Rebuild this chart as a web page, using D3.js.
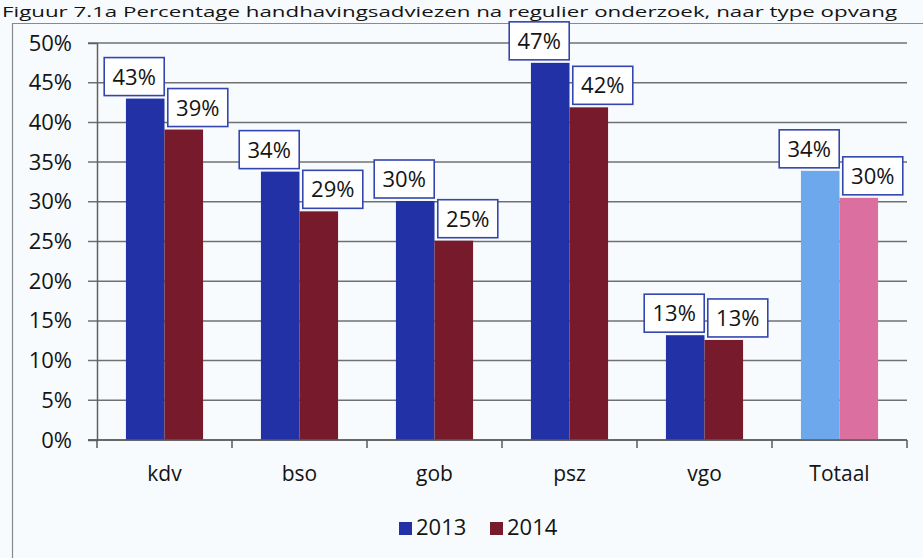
<!DOCTYPE html>
<html>
<head>
<meta charset="utf-8">
<script src="https://cdn.jsdelivr.net/npm/d3@7"></script>
<style>
  body { margin: 0; background: #f8fbfd; }
  #chart { width: 923px; height: 558px; }
  text { font-family: "Open Sans", sans-serif; fill: #141414; }
</style>
</head>
<body>
<div id="chart"></div>
<script>
const categories = ["kdv", "bso", "gob", "psz", "vgo", "Totaal"];
const years = ["2013", "2014"];
const values2013 = [43.0, 33.8, 30.1, 47.5, 13.2, 33.9];
const values2014 = [39.1, 28.8, 25.1, 41.9, 12.6, 30.5];
const labels2013 = ["43%", "34%", "30%", "47%", "13%", "34%"];
const labels2014 = ["39%", "29%", "25%", "42%", "13%", "30%"];
const yTicks = [0, 5, 10, 15, 20, 25, 30, 35, 40, 45, 50];
const title = "Figuur 7.1a Percentage handhavingsadviezen na regulier onderzoek, naar type opvang";

const colors = { "2013": "#2232a6", "2014": "#771a2c" };
const totalColors = { "2013": "#6ea8ec", "2014": "#da6fa0" };

const container = d3.select("#chart");
const width = 923, height = 558;
const svg = container.append("svg").attr("width", width).attr("height", height);

const margin = { left: 97, right: 16, top: 43, bottom: 118 };

// frame around the chart
svg.append("path")
  .attr("d", `M12.5,${height} V23.5 H${width}`)
  .attr("fill", "none")
  .attr("stroke", "#8a8a8a")
  .attr("stroke-width", 1.2);

// title
svg.append("text")
  .attr("x", 2)
  .attr("y", 17)
  .attr("font-size", 15)
  .attr("textLength", 895)
  .attr("lengthAdjust", "spacingAndGlyphs")
  .text(title);

const x0 = d3.scaleBand()
  .domain(categories)
  .range([margin.left, width - margin.right])
  .padding(0);

const x1 = d3.scaleBand()
  .domain(years)
  .range([0, x0.bandwidth()])
  .paddingInner(0)
  .paddingOuter(0.75);

const y = d3.scaleLinear()
  .domain([0, 50])
  .range([height - margin.bottom, margin.top]);

// gridlines
svg.append("g")
  .selectAll("line")
  .data(yTicks)
  .join("line")
  .attr("x1", margin.left - 9)
  .attr("x2", width - margin.right)
  .attr("y1", d => y(d))
  .attr("y2", d => y(d))
  .attr("stroke", "#707070")
  .attr("stroke-width", 1.5);

// y axis
svg.append("g")
  .attr("transform", `translate(${margin.left},0)`)
  .call(d3.axisLeft(y).tickValues(yTicks).tickFormat(d => d + "%").tickSize(9).tickPadding(16))
  .call(g => g.select(".domain").attr("stroke", "#606060").attr("stroke-width", 1.5))
  .call(g => g.selectAll(".tick line").remove())
  .call(g => g.selectAll(".tick text").attr("font-size", 22).attr("fill", "#141414").attr("font-family", "'Open Sans', sans-serif"));

// rows for the bars
const rows = [];
categories.forEach((c, i) => {
  rows.push({ cat: c, year: "2013", value: values2013[i], label: labels2013[i] });
  rows.push({ cat: c, year: "2014", value: values2014[i], label: labels2014[i] });
});

svg.append("g")
  .selectAll("rect")
  .data(rows)
  .join("rect")
  .attr("x", d => x0(d.cat) + x1(d.year))
  .attr("y", d => y(d.value))
  .attr("width", x1.bandwidth())
  .attr("height", d => y(0) - y(d.value))
  .attr("fill", d => d.cat === "Totaal" ? totalColors[d.year] : colors[d.year]);

// x axis
const xAxisG = svg.append("g")
  .attr("transform", `translate(0,${y(0)})`);
xAxisG.append("line")
  .attr("x1", margin.left - 9)
  .attr("x2", width - margin.right)
  .attr("stroke", "#5a5a5a")
  .attr("stroke-width", 1.5);
const tickX = categories.map(c => x0(c)).concat([x0.range()[1]]);
xAxisG.selectAll(".xtick")
  .data(tickX)
  .join("line")
  .attr("x1", d => d).attr("x2", d => d)
  .attr("y1", 0).attr("y2", 8)
  .attr("stroke", "#5a5a5a")
  .attr("stroke-width", 1.5);
xAxisG.selectAll(".xlab")
  .data(categories)
  .join("text")
  .attr("x", d => x0(d) + x0.bandwidth() / 2)
  .attr("y", 41)
  .attr("text-anchor", "middle")
  .attr("font-size", 21)
  .text(d => d);

// data label boxes (nudged sideways like the original)
const boxW = 60, boxH = 38;
const nudge = { "2013": -11, "2014": 14 };
const lab = svg.append("g")
  .selectAll("g")
  .data(rows)
  .join("g")
  .attr("transform", d => {
    const cx = x0(d.cat) + x1(d.year) + x1.bandwidth() / 2 + nudge[d.year];
    const top = y(d.value) - 3 - boxH;
    return `translate(${cx - boxW / 2},${top})`;
  });
lab.append("rect")
  .attr("width", boxW)
  .attr("height", boxH)
  .attr("fill", "#ffffff")
  .attr("stroke", "#3346ae")
  .attr("stroke-width", 1.6);
lab.append("text")
  .attr("x", boxW / 2)
  .attr("y", boxH / 2 + 8)
  .attr("text-anchor", "middle")
  .attr("font-size", 22)
  .text(d => d.label);

// legend
const legend = svg.append("g").attr("transform", "translate(399,522)");
const legItems = legend.selectAll("g")
  .data(years)
  .join("g")
  .attr("transform", (d, i) => `translate(${i * 91},0)`);
legItems.append("rect")
  .attr("width", 13)
  .attr("height", 13)
  .attr("fill", d => colors[d]);
legItems.append("text")
  .attr("x", 17)
  .attr("y", 13)
  .attr("font-size", 22)
  .text(d => d);
</script>
</body>
</html>
